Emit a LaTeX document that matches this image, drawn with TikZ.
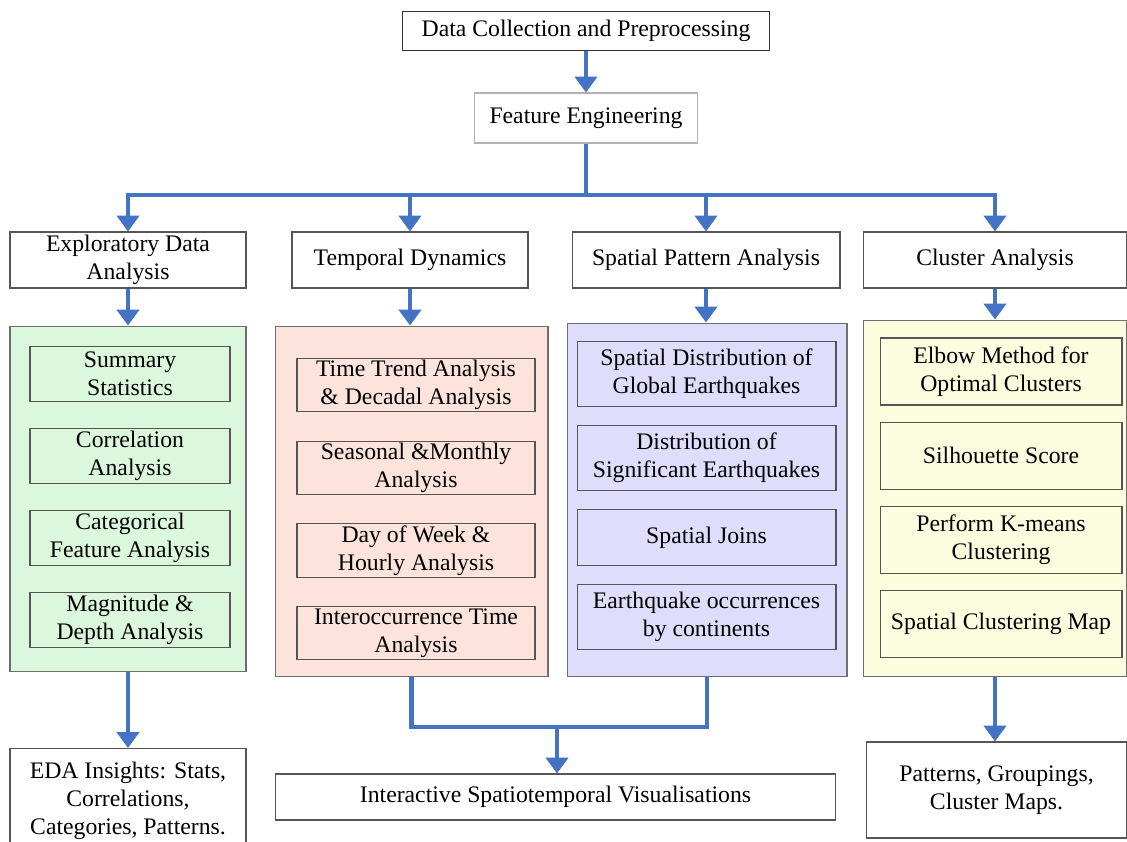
\documentclass[tikz,border=0pt]{standalone}
\usepackage{fontspec}
\setmainfont{Liberation Serif}
\usetikzlibrary{arrows.meta, positioning}
\definecolor{flowblue}{RGB}{68,114,196}
\definecolor{edagreen}{RGB}{220,248,220}
\definecolor{temppink}{RGB}{252,228,220}
\definecolor{spatlilac}{RGB}{224,220,252}
\definecolor{clusyellow}{RGB}{252,252,222}
\definecolor{edgegray}{RGB}{85,85,85}
\tikzset{
  box/.style={rectangle,draw=edgegray,fill=white,align=center,inner sep=1pt,line width=0.6pt,font=\fontsize{13.5}{16}\selectfont},
  panel/.style={rectangle,draw=edgegray!85,line width=0.6pt},
  item/.style={box,fill=none},
  line/.style={draw=flowblue,line width=2.8pt},
  arrow/.style={line,-{Triangle[width=12.5pt,length=9pt]}}
}

\begin{document}
\begin{tikzpicture}[x=0.02cm,y=-0.02cm]
\useasboundingbox (0,0) rectangle (1127,842);

\node[box, draw=black!80, minimum width=7.36cm, minimum height=0.78cm] (collect) at (586,31) {Data Collection and Preprocessing};
\node[box, draw=black!30, minimum width=4.46cm, minimum height=1cm] (feature) at (586,118) {Feature Engineering};

\node[box, minimum width=4.72cm, minimum height=1.12cm] (eda) at (128,260) {Exploratory Data\\Analysis};
\node[box, minimum width=4.72cm, minimum height=1.12cm] (temp) at (410,260) {Temporal Dynamics};
\node[box, minimum width=5.36cm, minimum height=1.12cm] (spat) at (706,260) {Spatial Pattern Analysis};
\node[box, minimum width=5.28cm, minimum height=1.12cm] (clus) at (995,260) {Cluster Analysis};

\node[panel, fill=edagreen, minimum width=4.72cm, minimum height=6.92cm] (edapanel) at (128,499) {};
\node[panel, fill=temppink, minimum width=5.46cm, minimum height=7.02cm] (temppanel) at (411.5,501.5) {};
\node[panel, fill=spatlilac, minimum width=5.6cm, minimum height=7.08cm] (spatpanel) at (707,500) {};
\node[panel, fill=clusyellow, minimum width=5.28cm, minimum height=7.14cm] (cluspanel) at (995,498.5) {};

\begin{scope}[every node/.style={item, minimum width=4cm, minimum height=1.1cm}, node distance=0.52cm]
\node (eda1) at (130,374) {Summary\\Statistics};
\node[below=of eda1] (eda2) {Correlation\\Analysis};
\node[below=of eda2] (eda3) {Categorical\\Feature Analysis};
\node[below=of eda3] (eda4) {Magnitude \&\\Depth Analysis};
\end{scope}

\begin{scope}[every node/.style={item, minimum width=4.76cm, minimum height=1.06cm}, node distance=0.57cm]
\node (temp1) at (416,385) {Time Trend Analysis\\\& Decadal Analysis};
\node[below=of temp1] (temp2) {Seasonal \&Monthly\\Analysis};
\node[below=of temp2] (temp3) {Day of Week \&\\Hourly Analysis};
\node[below=of temp3] (temp4) {Interoccurrence Time\\Analysis};
\end{scope}

\begin{scope}[every node/.style={item, minimum width=5.18cm, minimum height=1.3cm}, node distance=0.36cm]
\node (spat1) at (706.5,374) {Spatial Distribution of\\Global Earthquakes};
\node[below=of spat1] (spat2) {Distribution of\\Significant Earthquakes};
\node[below=of spat2, minimum height=1.12cm] (spat3) {Spatial Joins};
\node[below=of spat3] (spat4) {Earthquake occurrences\\by continents};
\end{scope}

\begin{scope}[every node/.style={item, minimum width=4.84cm, minimum height=1.34cm}, node distance=0.32cm]
\node (clus1) at (1001,371.5) {Elbow Method for\\Optimal Clusters};
\node[below=of clus1] (clus2) {Silhouette Score};
\node[below=of clus2] (clus3) {Perform K-means\\Clustering};
\node[below=of clus3] (clus4) {Spatial Clustering Map};
\end{scope}

\node[box, minimum width=4.72cm, minimum height=2.1cm] (edaout) at (128,801) {EDA Insights: Stats,\\Correlations,\\Categories, Patterns.};
\node[box, minimum width=11.22cm, minimum height=0.92cm] (visual) at (555.5,797) {Interactive Spatiotemporal Visualisations};
\node[box, minimum width=5.22cm, minimum height=1.92cm] (clusout) at (996.5,790) {Patterns, Groupings,\\Cluster Maps.};

\coordinate (split) at (586,195);
\coordinate (merge) at (557,727);

\draw[arrow] (collect) -- (feature);
\draw[line] (feature) -- (split);
\foreach \n in {eda,temp,spat,clus}
  \draw[arrow] (split) -| (\n);
\foreach \n in {eda,temp,spat,clus}
  \draw[arrow] (\n.south) -- (\n.south |- \n panel.north);
\draw[arrow] (edapanel.south) -- (edapanel.south |- edaout.north);
\draw[line] (temppanel.south) |- (spatpanel.south |- merge) -- (spatpanel.south);
\draw[arrow] (merge) -- (merge |- visual.north);
\draw[arrow] (cluspanel.south) -- (cluspanel.south |- clusout.north);
\end{tikzpicture}
\end{document}
